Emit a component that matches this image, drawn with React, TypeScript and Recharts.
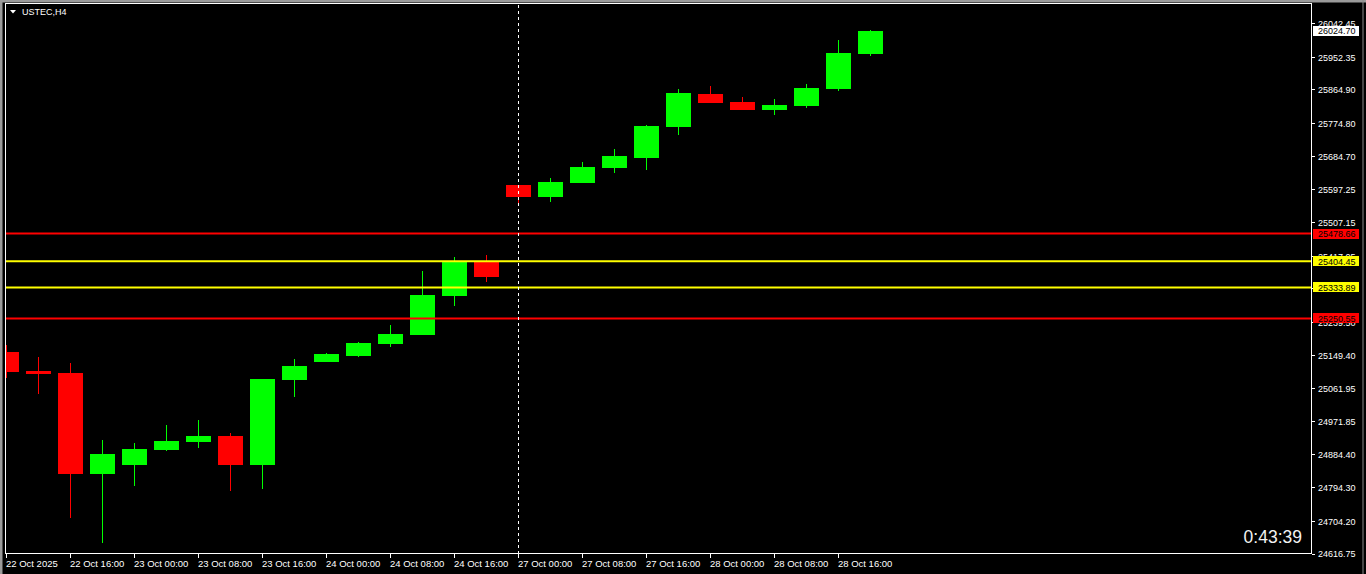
import React from 'react';
import { ComposedChart, Bar, XAxis, YAxis, ReferenceLine } from 'recharts';

const CANDLE_TIMES = [
  '22 Oct 08:00', '22 Oct 12:00', '22 Oct 16:00', '22 Oct 20:00',
  '23 Oct 00:00', '23 Oct 04:00', '23 Oct 08:00', '23 Oct 12:00', '23 Oct 16:00', '23 Oct 20:00',
  '24 Oct 00:00', '24 Oct 04:00', '24 Oct 08:00', '24 Oct 12:00', '24 Oct 16:00', '24 Oct 20:00',
  '27 Oct 00:00', '27 Oct 04:00', '27 Oct 08:00', '27 Oct 12:00', '27 Oct 16:00', '27 Oct 20:00',
  '28 Oct 00:00', '28 Oct 04:00', '28 Oct 08:00', '28 Oct 12:00', '28 Oct 16:00', '28 Oct 20:00',
];
const OPEN = [25160, 25109, 25103.7, 24832.8, 24856.2, 24897.3, 24918.1, 24934.2, 24856.2, 25084.8, 25133.2, 25149.4, 25181.7, 25205.9, 25310.8, 25404.9, 25609.3, 25577.1, 25614.7, 25655.1, 25682.0, 25765.4, 25854.1, 25832.6, 25811.1, 25821.8, 25867.6, 25961.7];
const HIGH = [25179, 25147, 25130.6, 24923.4, 24915.4, 24963.8, 24977.2, 24942.3, 25088.5, 25141.3, 25157.5, 25187.1, 25232.8, 25378.0, 25415.7, 25421.1, 25610.5, 25628.2, 25671.2, 25706.2, 25770.7, 25867.6, 25875.6, 25846.0, 25840.7, 25881.0, 25999.4, 26027.0];
const LOW = [25091, 25048, 24714.4, 24647.2, 24800.5, 24894.7, 24902.7, 24787.1, 24792.4, 25039.1, 25133.2, 25146.7, 25173.6, 25205.9, 25283.9, 25348.4, 25552.9, 25563.6, 25614.7, 25641.6, 25649.7, 25743.8, 25829.9, 25811.1, 25797.6, 25816.5, 25862.2, 25956.3];
const CLOSE = [25106, 25102, 24832.8, 24885.8, 24899.2, 24920.8, 24934.2, 24856.2, 25087.5, 25122.5, 25154.8, 25184.4, 25208.6, 25313.5, 25404.9, 25361.9, 25577.1, 25617.4, 25657.8, 25687.3, 25768.0, 25856.8, 25829.9, 25811.1, 25824.5, 25870.3, 25964.4, 26024.7];

const X_TICK_INDEX = [0, 2, 4, 6, 8, 10, 12, 14, 16, 18, 20, 22, 24, 26];
const X_TICK_LABELS = [
  '22 Oct 2025', '22 Oct 16:00', '23 Oct 00:00', '23 Oct 08:00', '23 Oct 16:00',
  '24 Oct 00:00', '24 Oct 08:00', '24 Oct 16:00', '27 Oct 00:00', '27 Oct 08:00',
  '27 Oct 16:00', '28 Oct 00:00', '28 Oct 08:00', '28 Oct 16:00',
];
const Y_TICKS = [26042.45, 25952.35, 25864.90, 25774.80, 25684.70, 25597.25, 25507.15, 25417.05, 25329.60, 25239.50, 25149.40, 25061.95, 24971.85, 24884.40, 24794.30, 24704.20, 24616.75];
const CURRENT_PRICE = 26024.70;
const LEVELS = [25478.66, 25404.45, 25333.89, 25250.55];
const LEVEL_COLORS = ['#ff0000', '#ffff00', '#ffff00', '#ff0000'];
const SEPARATOR_INDEX = 16;
const SYMBOL_TITLE = 'USTEC,H4';
const TIMER_TEXT = '0:43:39';

const X_DOMAIN: [number, number] = [-0.046875, 40.796875];
const Y_DOMAIN: [number, number] = [24616.75, 26098.9];

const FONT = '"Liberation Sans", Arial, sans-serif';

const data = CANDLE_TIMES.map((time, i) => ({
  i,
  time,
  open: OPEN[i],
  high: HIGH[i],
  low: LOW[i],
  close: CLOSE[i],
}));

const Candle = (props: any) => {
  const { x, y, width, height, payload } = props;
  if (!payload || height == null || isNaN(y)) return null;
  const { open, close, high, low } = payload;
  const cx = x + width / 2;
  const span = high - low;
  const yOf = (v: number) => (span === 0 ? y : y + ((high - v) / span) * height);
  const up = close >= open;
  const color = up ? '#00ff00' : '#ff0000';
  const top = yOf(Math.max(open, close));
  const bot = yOf(Math.min(open, close));
  return (
    <g shapeRendering="crispEdges">
      <rect x={cx - 0.5} y={y} width={1} height={Math.max(height, 1)} fill={color} />
      <rect x={cx - 12.5} y={top} width={25} height={Math.max(bot - top, 2)} fill={color} />
    </g>
  );
};

const XTick = (props: any) => {
  const { x, y, payload } = props;
  const idx = X_TICK_INDEX.indexOf(payload.value);
  if (idx < 0) return null;
  return (
    <g>
      <line x1={x} x2={x} y1={y} y2={y + 4} stroke="#ffffff" shapeRendering="crispEdges" />
      <text x={x - 0.5} y={y + 13} fill="#ffffff" fontSize={9.5} fontFamily={FONT} textAnchor="start">
        {X_TICK_LABELS[idx]}
      </text>
    </g>
  );
};

const YTick = (props: any) => {
  const { x, y, payload } = props;
  const v = payload.value as number;
  const li = LEVELS.indexOf(v);
  if (li >= 0 || v === CURRENT_PRICE) {
    const bg = li >= 0 ? LEVEL_COLORS[li] : '#ffffff';
    return (
      <g>
        <rect x={x + 1} y={y - 5} width={46} height={10} fill={bg} shapeRendering="crispEdges" />
        <text x={x + 6} y={y + 3.5} fill="#000000" fontSize={9} fontFamily={FONT} textAnchor="start">
          {v.toFixed(2)}
        </text>
      </g>
    );
  }
  return (
    <g>
      <line x1={x} x2={x + 3} y1={y} y2={y} stroke="#ffffff" shapeRendering="crispEdges" />
      <text x={x + 6} y={y + 3.3} fill="#ffffff" fontSize={9} fontFamily={FONT} textAnchor="start">
        {v.toFixed(2)}
      </text>
    </g>
  );
};

export default function App() {
  return (
    <div style={{ position: 'fixed', left: 0, top: 0, width: 1366, height: 574, background: '#000000', overflow: 'hidden' }}>
      <ComposedChart
        width={1366}
        height={574}
        data={data}
        margin={{ top: 3, right: 0, bottom: 0, left: 5 }}
      >
        <XAxis
          dataKey="i"
          type="number"
          domain={X_DOMAIN}
          allowDataOverflow
          ticks={X_TICK_INDEX}
          interval={0}
          height={20}
          tickSize={0}
          tickMargin={0}
          axisLine={false}
          tickLine={false}
          tick={(p: any) => <XTick {...p} />}
        />
        <YAxis
          orientation="right"
          type="number"
          domain={Y_DOMAIN}
          allowDataOverflow
          ticks={[...Y_TICKS, CURRENT_PRICE, ...LEVELS]}
          interval={0}
          width={54}
          tickSize={0}
          tickMargin={0}
          axisLine={false}
          tickLine={false}
          tick={(p: any) => <YTick {...p} />}
        />
        <Bar
          dataKey={(d: any) => [d.low, d.high]}
          barSize={25}
          shape={(p: any) => <Candle {...p} />}
          isAnimationActive={false}
        />
        {LEVELS.map((lv, i) => (
          <ReferenceLine key={lv} y={lv} stroke={LEVEL_COLORS[i]} strokeWidth={2} ifOverflow="hidden" />
        ))}
        <ReferenceLine x={SEPARATOR_INDEX} stroke="#ffffff" strokeDasharray="3 3" strokeWidth={1} />
      </ComposedChart>
      <svg
        width={1366}
        height={574}
        style={{ position: 'absolute', left: 0, top: 0, pointerEvents: 'none' }}
      >
        <rect x={0} y={0} width={1366} height={2.5} fill="#9a9a9a" />
        <rect x={0} y={0} width={2.5} height={574} fill="#9a9a9a" />
        <rect x={1362.5} y={0} width={1} height={574} fill="#8a8a8a" />
        <rect x={5.5} y={3.5} width={1306} height={550} fill="none" stroke="#ffffff" strokeWidth={1} />
        <path d="M10 10 L16 10 L13 13.5 Z" fill="#ffffff" />
        <text x={22} y={15} fill="#ffffff" fontSize={9} fontFamily={FONT}>{SYMBOL_TITLE}</text>
        <text x={1302} y={543} fill="#f2f2f2" fontSize={17.5} fontFamily={FONT} textAnchor="end">{TIMER_TEXT}</text>
      </svg>
    </div>
  );
}
